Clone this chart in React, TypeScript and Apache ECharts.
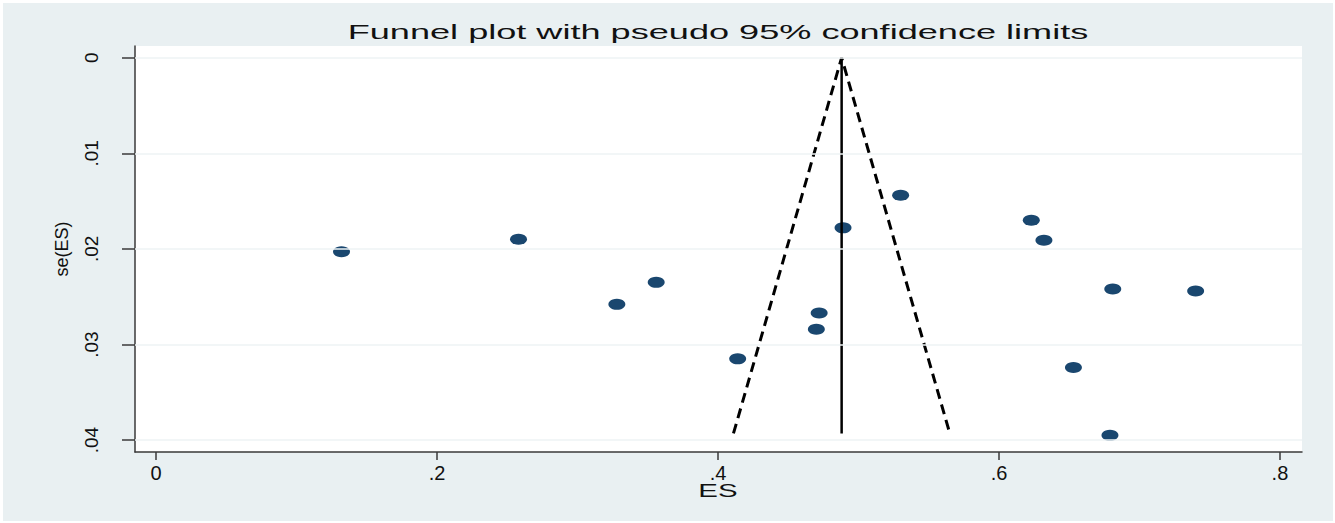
import React, { useEffect, useRef } from "react";
import * as echarts from "echarts";

const titleText = "Funnel plot with pseudo 95% confidence limits";
const xName = "ES";
const yName = "se(ES)";
const xTicks = [0, 0.2, 0.4, 0.6, 0.8];
const yTicks = [0, 0.01, 0.02, 0.03, 0.04];
const esValues = [0.132, 0.258, 0.489, 0.530, 0.623, 0.632, 0.328, 0.356, 0.472, 0.470, 0.414, 0.681, 0.740, 0.653, 0.679];
const seValues = [0.0203, 0.0190, 0.0178, 0.0144, 0.0170, 0.0191, 0.0258, 0.0235, 0.0267, 0.0284, 0.0315, 0.0242, 0.0244, 0.0324, 0.0395];
const pooledES = 0.488;
const funnelBottomSE = 0.0393;
const lowerLimitAtBottom = 0.411;
const upperLimitAtBottom = 0.565;

const fmt = (v: number) => (v === 0 ? "0" : String(+v.toFixed(2)).replace(/^0/, "").replace(/^-0/, "-"));

export default function App() {
  const ref = useRef<HTMLDivElement>(null);
  useEffect(() => {
    if (!ref.current) return;
    const chart = echarts.init(ref.current, null, { renderer: "svg" });
    const font = "'Liberation Sans', Arial, sans-serif";
    chart.setOption({
      animation: false,
      backgroundColor: "#e9f0f2",
      graphic: [
        {
          type: "text",
          x: 715,
          y: 29,
          scaleX: 1.72,
          style: { text: titleText, fontFamily: font, fontSize: 21, fill: "#111", align: "center", verticalAlign: "middle" },
        },
        {
          type: "text",
          x: 715,
          y: 487,
          scaleX: 1.55,
          style: { text: xName, fontFamily: font, fontSize: 19, fill: "#111", align: "center", verticalAlign: "middle" },
        },
      ],
      grid: { left: 132, right: 31, top: 43, bottom: 69, show: true, backgroundColor: "#ffffff", borderWidth: 0 },
      xAxis: {
        type: "value",
        min: -0.015,
        max: 0.8157,
        axisLine: { show: true, onZero: false, lineStyle: { color: "#3a3a3a", width: 1.5 } },
        axisTick: { show: true, length: 8, customValues: xTicks, lineStyle: { color: "#3a3a3a", width: 1.5 } },
        axisLabel: { customValues: xTicks, formatter: fmt, fontFamily: font, fontSize: 20, color: "#111", margin: 11 },
        splitLine: { show: false },
      },
      yAxis: {
        type: "value",
        inverse: true,
        min: -0.00122,
        max: 0.04124,
        name: yName,
        nameLocation: "middle",
        nameGap: 64,
        nameRotate: 90,
        nameTextStyle: { fontFamily: font, fontSize: 18, color: "#111" },
        axisLine: { show: true, onZero: false, lineStyle: { color: "#3a3a3a", width: 1.5 } },
        axisTick: { show: true, length: 13, customValues: yTicks, lineStyle: { color: "#3a3a3a", width: 1.5 } },
        axisLabel: { customValues: yTicks, rotate: 90, formatter: fmt, fontFamily: font, fontSize: 19, color: "#111", margin: 34 },
        splitLine: { show: false },
      },
      series: [
        {
          type: "line",
          data: [],
          silent: true,
          markLine: {
            silent: true,
            symbol: "none",
            label: { show: false },
            lineStyle: { color: "#eef3f4", width: 1.5, type: "solid" },
            data: yTicks.map((v) => ({ yAxis: v })),
          },
        },
        {
          type: "line",
          data: [[pooledES, 0], [pooledES, funnelBottomSE]],
          symbol: "none",
          lineStyle: { color: "#000", width: 2.5 },
        },
        {
          type: "line",
          data: [[lowerLimitAtBottom, funnelBottomSE], [pooledES, 0], [upperLimitAtBottom, funnelBottomSE]],
          symbol: "none",
          lineStyle: { color: "#000", width: 3, type: [10, 6] },
        },
        {
          type: "scatter",
          data: esValues.map((x, i) => [x, seValues[i]]),
          symbol: "circle",
          symbolSize: [17, 11],
          itemStyle: { color: "#1a476f", opacity: 1 },
        },
      ],
    });
    return () => chart.dispose();
  }, []);
  return (
    <div style={{ position: "absolute", left: 0, top: 0, width: 1335, height: 523, background: "#fff" }}>
      <div ref={ref} style={{ position: "absolute", left: 3, top: 3, width: 1330, height: 518 }} />
    </div>
  );
}
